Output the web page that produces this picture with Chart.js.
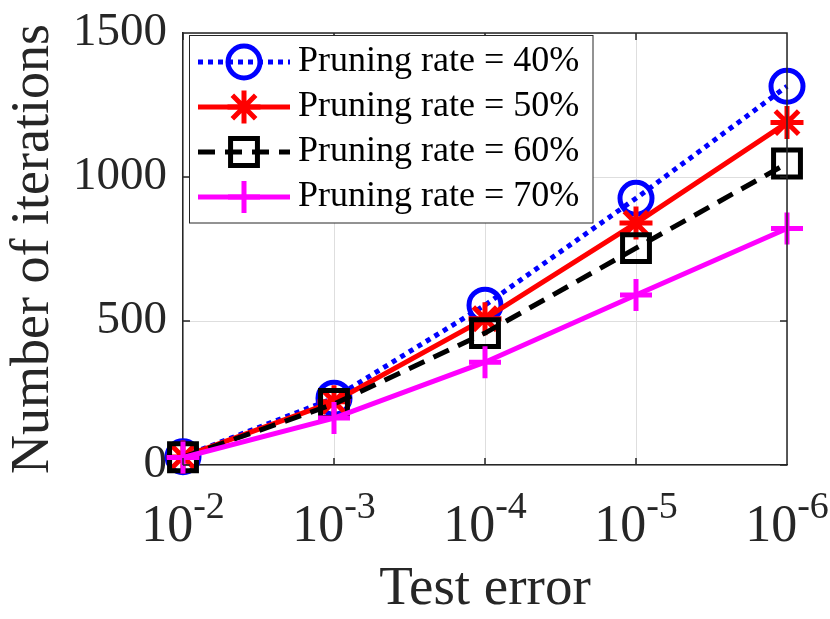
<!DOCTYPE html>
<html>
<head>
<meta charset="utf-8">
<script src="https://cdn.jsdelivr.net/npm/chart.js@4.4.0/dist/chart.umd.min.js"></script>
<style>
html, body { margin: 0; padding: 0; background: #fff; }
</style>
</head>
<body>
<canvas id="iterChart" width="830" height="619"></canvas>
<script>
// exponents of the test error (labels are drawn as 10^exp)
const exponents = ['-2', '-3', '-4', '-5', '-6'];
const rate40 = [29, 232, 555, 926, 1315];
const rate50 = [28, 220, 508, 840, 1189];
const rate60 = [27, 212, 458, 753, 1047];
const rate70 = [26, 163, 357, 590, 821];
const seriesNames = ['Pruning rate = 40%', 'Pruning rate = 50%', 'Pruning rate = 60%', 'Pruning rate = 70%'];
const yTicks = [0, 500, 1000, 1500];

const serif = "'Liberation Serif', 'Times New Roman', serif";
const axisColor = '#262626';

// box, inward ticks, superscript x labels and the matlab-like legend
const matlabAxes = {
    id: 'matlabAxes',
    afterDraw(chart) {
        const { ctx, chartArea: a, scales: { x, y } } = chart;
        ctx.save();
        ctx.strokeStyle = axisColor;
        ctx.lineWidth = 1.5;
        ctx.beginPath();
        ctx.moveTo(a.left, a.top); ctx.lineTo(a.right, a.top); ctx.lineTo(a.right, a.bottom);
        exponents.forEach((e, i) => {
            const px = x.getPixelForTick(i);
            ctx.moveTo(px, a.bottom); ctx.lineTo(px, a.bottom - 7);
            ctx.moveTo(px, a.top); ctx.lineTo(px, a.top + 7);
        });
        yTicks.forEach(v => {
            const py = y.getPixelForValue(v);
            ctx.moveTo(a.left, py); ctx.lineTo(a.left + 7, py);
            ctx.moveTo(a.right, py); ctx.lineTo(a.right - 7, py);
        });
        ctx.stroke();

        // x tick labels 10^{-k}
        ctx.fillStyle = axisColor;
        ctx.textBaseline = 'alphabetic';
        ctx.textAlign = 'left';
        exponents.forEach((e, i) => {
            const px = x.getPixelForTick(i);
            ctx.font = '52px ' + serif;
            const wBase = ctx.measureText('10').width;
            ctx.font = '38px ' + serif;
            const wSup = ctx.measureText(e).width;
            const x0 = px - (wBase + wSup) / 2;
            ctx.font = '52px ' + serif;
            ctx.fillText('10', x0, 541);
            ctx.font = '38px ' + serif;
            ctx.fillText(e, x0 + wBase, 518);
        });

        // legend
        const L = { left: 189.5, top: 35.5, right: 593, bottom: 223 };
        ctx.fillStyle = '#fff';
        ctx.fillRect(L.left, L.top, L.right - L.left, L.bottom - L.top);
        ctx.strokeStyle = axisColor;
        ctx.lineWidth = 1;
        ctx.strokeRect(L.left, L.top, L.right - L.left, L.bottom - L.top);
        chart.data.datasets.forEach((ds, i) => {
            const cy = 62 + 45 * i;
            ctx.save();
            ctx.strokeStyle = ds.borderColor;
            ctx.lineWidth = ds.borderWidth;
            ctx.setLineDash(ds.borderDash || []);
            ctx.beginPath();
            ctx.moveTo(198, cy); ctx.lineTo(290, cy);
            ctx.stroke();
            ctx.restore();
            ctx.save();
            ctx.strokeStyle = ds.pointBorderColor;
            ctx.fillStyle = ds.pointBackgroundColor;
            ctx.lineWidth = ds.pointBorderWidth;
            Chart.helpers.drawPoint(ctx, { pointStyle: ds.pointStyle, radius: ds.pointRadius, rotation: 0, borderWidth: ds.pointBorderWidth }, 244, cy);
            ctx.restore();
            ctx.fillStyle = '#000';
            ctx.font = '36px ' + serif;
            ctx.textBaseline = 'middle';
            ctx.fillText(ds.label, 298, cy);
        });
        ctx.restore();
    }
};

const ctx = document.getElementById('iterChart').getContext('2d');
new Chart(ctx, {
    type: 'line',
    data: {
        labels: exponents,
        datasets: [{
            label: seriesNames[0],
            data: rate40,
            borderColor: '#0000ff',
            borderWidth: 5,
            borderDash: [5, 5],
            pointStyle: 'circle',
            pointRadius: 16,
            pointBorderWidth: 5,
            pointBorderColor: '#0000ff',
            pointBackgroundColor: 'rgba(0,0,0,0)',
            order: 3
        }, {
            label: seriesNames[1],
            data: rate50,
            borderColor: '#ff0000',
            borderWidth: 5,
            pointStyle: 'star',
            pointRadius: 16.5,
            pointBorderWidth: 5,
            pointBorderColor: '#ff0000',
            pointBackgroundColor: 'rgba(0,0,0,0)',
            order: 2
        }, {
            label: seriesNames[2],
            data: rate60,
            borderColor: '#000000',
            borderWidth: 5,
            borderDash: [17, 10],
            pointStyle: 'rect',
            pointRadius: 19,
            pointBorderWidth: 5,
            pointBorderColor: '#000000',
            pointBackgroundColor: 'rgba(0,0,0,0)',
            order: 1
        }, {
            label: seriesNames[3],
            data: rate70,
            borderColor: '#ff00ff',
            borderWidth: 5,
            pointStyle: 'cross',
            pointRadius: 16,
            pointBorderWidth: 5,
            pointBorderColor: '#ff00ff',
            pointBackgroundColor: 'rgba(0,0,0,0)',
            order: 0
        }].map(d => Object.assign(d, { fill: false, tension: 0, clip: false }))
    },
    options: {
        responsive: false,
        animation: false,
        layout: { padding: { top: 33, right: 43, left: 0, bottom: 0 }, autoPadding: false },
        plugins: {
            legend: { display: false },
            tooltip: { enabled: false }
        },
        scales: {
            x: {
                offset: false,
                grid: { color: '#dedede', lineWidth: 1, drawTicks: false },
                border: { color: axisColor, width: 1.5 },
                ticks: { callback: () => '', autoSkip: false },
                title: {
                    display: true, text: 'Test error', color: axisColor,
                    font: { family: serif, size: 55, lineHeight: 1 },
                    padding: { top: 0, bottom: 2 }
                },
                afterFit: s => { s.height = 154; s.paddingLeft = 0; s.paddingRight = 0; }
            },
            y: {
                min: 0,
                max: 1500,
                afterBuildTicks: s => { s.ticks = yTicks.map(v => ({ value: v })); },
                grid: { color: '#dedede', lineWidth: 1, drawTicks: false },
                border: { color: axisColor, width: 1.5 },
                ticks: { color: axisColor, font: { family: serif, size: 47 }, padding: 16, callback: v => String(v) },
                title: {
                    display: true, text: 'Number of iterations', color: axisColor,
                    font: { family: serif, size: 54, lineHeight: 1 },
                    padding: { top: 7, bottom: 0 }
                },
                afterFit: s => { s.width = 183; s.paddingTop = 0; s.paddingBottom = 0; }
            }
        }
    },
    plugins: [matlabAxes]
});
</script>
</body>
</html>
